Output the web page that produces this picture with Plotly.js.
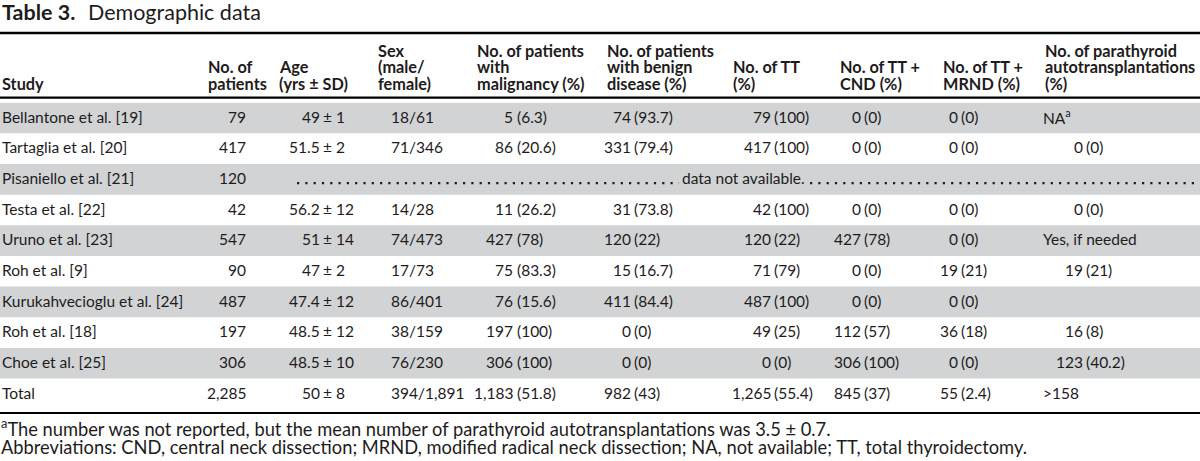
<!DOCTYPE html>
<html>
<head>
<meta charset="utf-8">
<script src="https://cdn.plot.ly/plotly-3.0.1.min.js"></script>
<style>html,body{margin:0;padding:0;background:#fff;}#chart{width:1200px;height:461px;}</style>
</head>
<body>
<div id="chart"></div>
<script>
// ---------- DATA ----------
const titleBold = "Table 3.";
const titleText = "Demographic data";
const studies = ["Bellantone et al. [19]","Tartaglia et al. [20]","Pisaniello et al. [21]","Testa et al. [22]","Uruno et al. [23]","Roh et al. [9]","Kurukahvecioglu et al. [24]","Roh et al. [18]","Choe et al. [25]","Total"];
const patients = ["79","417","120","42","547","90","487","197","306","2,285"];
const ageMean = ["49","51.5",null,"56.2","51","47","47.4","48.5","48.5","50"];
const ageSD = ["1","2",null,"12","14","2","12","12","10","8"];
const sexRatio = ["18/61","71/346",null,"14/28","74/473","17/73","86/401","38/159","76/230","394/1,891"];
const malN = ["5","86",null,"11","427","75","76","197","306","1,183"];
const malPct = ["6.3","20.6",null,"26.2","78","83.3","15.6","100","100","51.8"];
const benN = ["74","331",null,"31","120","15","411","0","0","982"];
const benPct = ["93.7","79.4",null,"73.8","22","16.7","84.4","0","0","43"];
const ttN = ["79","417",null,"42","120","71","487","49","0","1,265"];
const ttPct = ["100","100",null,"100","22","79","100","25","0","55.4"];
const cndN = ["0","0",null,"0","427","0","0","112","306","845"];
const cndPct = ["0","0",null,"0","78","0","0","57","100","37"];
const mrndN = ["0","0",null,"0","0","19","0","36","0","55"];
const mrndPct = ["0","0",null,"0","0","21","0","18","0","2.4"];
const ptN = ["NA<sup>a</sup>","0",null,"0","Yes, if needed","19","","16","123",">158"];
const ptPct = [null,"0",null,"0",null,"21",null,"8","40.2",null];
const missingText = "data not available.";
const headers = [
  ["Study"],
  ["No. of","patients"],
  ["Age","(yrs ± SD)"],
  ["Sex","(male/","female)"],
  ["No. of patients","with","malignancy (%)"],
  ["No. of patients","with benign","disease (%)"],
  ["No. of TT","(%)"],
  ["No. of TT +","CND (%)"],
  ["No. of TT +","MRND (%)"],
  ["No. of parathyroid","autotransplantations","(%)"]
];
const footnote1 = "<sup>a</sup>The number was not reported, but the mean number of parathyroid autotransplantations was 3.5 ± 0.7.";
const footnote2 = "Abbreviations: CND, central neck dissection; MRND, modified radical neck dissection; NA, not available; TT, total thyroidectomy.";

// ---------- LAYOUT CONSTANTS ----------
const FONT = "Lato, Carlito, 'Liberation Sans', sans-serif";
const TXT = "#1e1b1c";
const GRAY = "#d1d3d4";
const FS = 15.5, FS_HEAD = 16.3, FS_TITLE = 21.5, FS_NOTE = 18.3;
const ROW_TOP = 102.7, ROW_H = 30.65;
const rowY = i => ROW_TOP + (i + 0.5) * ROW_H - 1.2;
const headerX = [2, 207.7, 278.7, 378.3, 476.7, 606.7, 733.3, 840, 942.7, 1045];
const headerLineY = [50, 66.7, 83.3];

const ann = [];
function addText(text, x, y, anchor, opts) {
  opts = opts || {};
  ann.push({
    text: text, x: x, y: y, xref: "x", yref: "y",
    xanchor: anchor, yanchor: "middle", showarrow: false,
    borderpad: 0, borderwidth: 0,
    font: {family: FONT, size: opts.size || FS, color: TXT, weight: opts.weight || 400}
  });
}
function addSplit(num, pct, P, y) {
  if (num === null || num === undefined) return;
  if (pct === null || pct === undefined) return;
  addText(num, P - 3.5, y, "right");
  addText("(" + pct + ")", P, y, "left");
}

// title
addText(titleBold, 1.5, 11.5, "left", {size: FS_TITLE, weight: 700});
addText(titleText, 88, 11.5, "left", {size: FS_TITLE});

// headers
headers.forEach((lines, c) => {
  const start = 3 - lines.length;
  lines.forEach((ln, k) => addText(ln, headerX[c], headerLineY[start + k], "left", {size: FS_HEAD, weight: 700}));
});

const shapes = [];
studies.forEach((s, i) => {
  if (i % 2 === 0) {
    shapes.push({type: "rect", xref: "x", yref: "y", x0: 0, x1: 1200,
      y0: ROW_TOP + i * ROW_H, y1: ROW_TOP + (i + 1) * ROW_H,
      fillcolor: GRAY, line: {width: 0}, layer: "below"});
  }
});
[[33, 2.5], [97.7, 2.2], [413, 2.2]].forEach(r => shapes.push({type: "line", xref: "x", yref: "y",
  x0: 0, x1: 1200, y0: r[0], y1: r[0], line: {color: "#000", width: r[1]}}));

studies.forEach((s, i) => {
  const y = rowY(i);
  addText(s, 2, y, "left");
  addText(patients[i], 246, y, "right");
  if (ageMean[i] === null) {
    const yb = y + 5;
    shapes.push({type: "line", xref: "x", yref: "y", x0: 297, x1: 679, y0: yb, y1: yb,
      line: {color: TXT, width: 2.2, dash: "2.2px,6.1px"}});
    shapes.push({type: "line", xref: "x", yref: "y", x0: 810, x1: 1198, y0: yb, y1: yb,
      line: {color: TXT, width: 2.2, dash: "2.2px,6.1px"}});
    addText(missingText, 682, y, "left");
    return;
  }
  addText(ageMean[i], 320, y, "right");
  addText("± " + ageSD[i], 322.5, y, "left");
  addText(sexRatio[i], 390.7, y, "left");
  addSplit(malN[i], malPct[i], 516.7, y);
  addSplit(benN[i], benPct[i], 634, y);
  addSplit(ttN[i], ttPct[i], 774, y);
  addSplit(cndN[i], cndPct[i], 864, y);
  addSplit(mrndN[i], mrndPct[i], 961, y);
  if (ptPct[i] === null) {
    if (ptN[i]) addText(ptN[i], 1043, y, "left");
  } else {
    addSplit(ptN[i], ptPct[i], 1086, y);
  }
});

addText(footnote1, 1, 427, "left", {size: FS_NOTE});
addText(footnote2, 1, 447, "left", {size: FS_NOTE});

const layout = {
  width: 1200, height: 461,
  margin: {l: 0, r: 0, t: 0, b: 0, pad: 0},
  paper_bgcolor: "#fff", plot_bgcolor: "#fff",
  showlegend: false,
  xaxis: {range: [0, 1200], visible: false, fixedrange: true},
  yaxis: {range: [461, 0], visible: false, fixedrange: true},
  shapes: shapes,
  annotations: ann
};
Plotly.newPlot("chart", [{x: [], y: [], type: "scatter", hoverinfo: "skip"}], layout,
  {staticPlot: true, displayModeBar: false});
</script>
</body>
</html>
